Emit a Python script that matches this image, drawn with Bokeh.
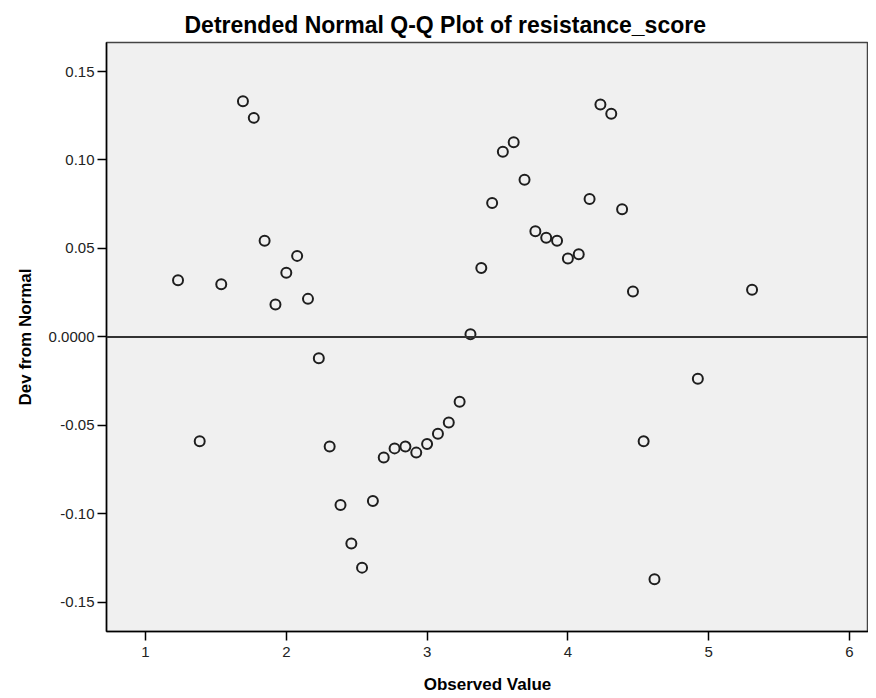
from bokeh.plotting import figure
from bokeh.models import Span, FixedTicker, Range1d, ColumnDataSource
from bokeh.embed import file_html
from bokeh.resources import INLINE

# Data
observed = [1.231, 1.385, 1.538, 1.692, 1.769, 1.846, 1.923, 2.000, 2.077, 2.154,
            2.231, 2.308, 2.385, 2.462, 2.538, 2.615, 2.692, 2.769, 2.846, 2.923,
            3.000, 3.077, 3.154, 3.231, 3.308, 3.385, 3.462, 3.538, 3.615, 3.692,
            3.769, 3.846, 3.923, 4.000, 4.077, 4.154, 4.231, 4.308, 4.385, 4.462,
            4.538, 4.615, 4.923, 5.308]
dev_from_normal = [0.0320, -0.0590, 0.0297, 0.1332, 0.1238, 0.0543, 0.0183, 0.0363, 0.0458, 0.0215,
                   -0.0121, -0.0620, -0.0950, -0.1168, -0.1304, -0.0927, -0.0681, -0.0630, -0.0620, -0.0654,
                   -0.0605, -0.0547, -0.0484, -0.0366, 0.0015, 0.0390, 0.0757, 0.1046, 0.1100, 0.0888,
                   0.0597, 0.0560, 0.0543, 0.0443, 0.0467, 0.0780, 0.1313, 0.1261, 0.0721, 0.0256,
                   -0.0590, -0.1370, -0.0236, 0.0266]
x_ticks = [1, 2, 3, 4, 5, 6]
y_ticks = [-0.15, -0.10, -0.05, 0.0, 0.05, 0.10, 0.15]
y_tick_labels = ["-0.15", "-0.10", "-0.05", "0.0000", "0.05", "0.10", "0.15"]

FONT = "Liberation Sans"

p = figure(frame_width=762, frame_height=589,
           min_border_left=106, min_border_top=42, min_border_right=0, min_border_bottom=59,
           x_range=Range1d(0.723, 6.135), y_range=Range1d(-0.1665, 0.1664),
           output_backend="svg", toolbar_location=None,
           title="Detrended Normal Q-Q Plot of resistance_score")

p.background_fill_color = "#f0f0f0"
p.border_fill_color = "white"
p.outline_line_color = "#444444"
p.outline_line_width = 1.5
p.grid.visible = False

p.title.text_font = FONT
p.title.text_font_size = "23px"
p.title.text_font_style = "bold"
p.title.text_color = "black"
p.title.align = "left"
p.title.offset = 78
p.title.standoff = 10

for ax in (p.xaxis[0], p.yaxis[0]):
    ax.axis_line_color = "black"
    ax.axis_line_width = 1.5
    ax.major_tick_line_color = "black"
    ax.major_tick_line_width = 1.5
    ax.major_tick_in = 0
    ax.major_tick_out = 9
    ax.minor_tick_line_color = None
    ax.major_label_text_font = FONT
    ax.major_label_text_font_size = "15px"
    ax.major_label_text_color = "#222222"
    ax.axis_label_text_font = FONT
    ax.axis_label_text_font_size = "17px"
    ax.axis_label_text_font_style = "bold"
    ax.axis_label_text_color = "black"

p.xaxis.ticker = FixedTicker(ticks=x_ticks)
p.xaxis.major_label_standoff = 6
p.xaxis.axis_label = "Observed Value"
p.xaxis.axis_label_standoff = 15

p.yaxis.ticker = FixedTicker(ticks=y_ticks)
p.yaxis.major_label_overrides = {t: s for t, s in zip(y_ticks, y_tick_labels)}
p.yaxis.major_label_standoff = 3
p.yaxis.axis_label = "Dev from Normal"
p.yaxis.axis_label_standoff = 11

p.add_layout(Span(location=0, dimension="width", line_color="#333333", line_width=2))

src = ColumnDataSource(data=dict(x=observed, y=dev_from_normal))
p.scatter("x", "y", source=src, marker="circle", size=10, fill_color=None,
          line_color="#1e1e1e", line_width=2)

open("out.html", "w").write(file_html(p, INLINE))
